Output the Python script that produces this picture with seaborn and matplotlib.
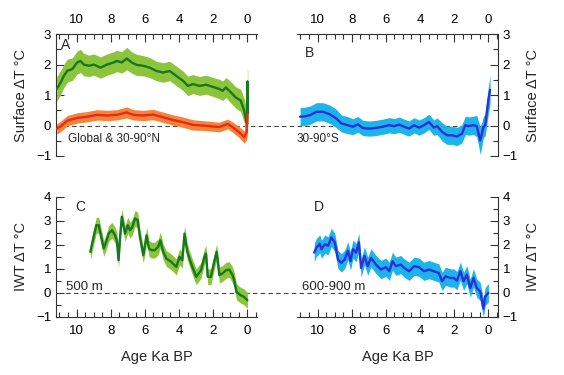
import numpy as np
import pandas as pd
import matplotlib.pyplot as plt
import seaborn as sns
from matplotlib.ticker import MultipleLocator

# Panel A: 30-90N surface stack (green) and global stack (red)
north_age = [11.16, 10.93, 10.75, 10.54, 10.25, 9.96, 9.77, 9.57, 9.28, 8.99, 8.6, 8.22,
             7.83, 7.64, 7.35, 7.06, 6.77, 6.48, 6.09, 5.71, 5.32, 4.93, 4.55, 4.16,
             3.77, 3.48, 3.19, 2.8, 2.42, 2.03, 1.64, 1.45, 1.26, 0.97, 0.68, 0.39,
             0.19, 0.05, 0.01, 0.0, -0.02]
north_dt = [1.2, 1.41, 1.62, 1.8, 1.85, 2.07, 2.12, 2.0, 1.96, 2.0, 1.9, 2.0,
            2.07, 2.12, 2.07, 2.2, 2.07, 1.99, 1.96, 1.9, 1.79, 1.74, 1.79, 1.63,
            1.47, 1.3, 1.36, 1.3, 1.34, 1.27, 1.2, 1.14, 1.25, 1.09, 0.92, 0.82,
            0.49, 0.1, 0.05, 1.45, 0.4]
north_err = [0.4, 0.4, 0.38, 0.38, 0.37, 0.38, 0.38, 0.37, 0.35, 0.35, 0.35, 0.35,
             0.35, 0.35, 0.35, 0.37, 0.35, 0.35, 0.33, 0.33, 0.32, 0.32, 0.32, 0.32,
             0.32, 0.32, 0.31, 0.31, 0.31, 0.31, 0.32, 0.32, 0.33, 0.35, 0.35, 0.37,
             0.4, 0.45, 0.5, 0.45, 1.4]

global_age = [11.16, 10.93, 10.54, 9.96, 9.38, 8.8, 8.22, 7.64, 7.06, 6.67, 6.09,
              5.51, 4.93, 4.35, 3.77, 3.19, 2.61, 2.03, 1.64, 1.16, 0.87, 0.48,
              0.19, 0.04, 0.0]
global_dt = [-0.11, -0.03, 0.16, 0.25, 0.29, 0.35, 0.33, 0.35, 0.43, 0.35, 0.33,
             0.36, 0.27, 0.18, 0.11, 0.02, 0.0, -0.03, -0.05, 0.05, -0.05, -0.22,
             -0.38, -0.22, 0.38]
global_err = [0.17, 0.17, 0.17, 0.17, 0.17, 0.17, 0.17, 0.17, 0.18, 0.17, 0.17,
              0.17, 0.17, 0.17, 0.17, 0.17, 0.16, 0.16, 0.16, 0.16, 0.17, 0.18,
              0.2, 0.25, 0.3]

# Panel B: 30-90S surface stack
south_age = [11.02, 10.73, 10.44, 10.06, 9.67, 9.28, 8.9, 8.61, 8.22, 7.93, 7.64,
             7.35, 6.96, 6.58, 6.19, 5.8, 5.51, 5.22, 4.93, 4.64, 4.35, 4.06,
             3.77, 3.48, 3.19, 3.0, 2.71, 2.42, 2.13, 1.84, 1.55, 1.35, 1.16,
             0.87, 0.68, 0.48, 0.39, 0.29, 0.19, 0.1, 0.0, -0.1]
south_dt = [0.29, 0.3, 0.34, 0.45, 0.45, 0.37, 0.23, 0.07, 0.01, -0.04, 0.04,
            -0.08, -0.1, -0.08, -0.04, 0.01, -0.02, 0.03, -0.04, -0.1, 0.01, -0.07,
            0.01, 0.12, -0.07, -0.02, -0.21, -0.32, -0.32, -0.36, -0.27, 0.01, -0.02,
            0.01, -0.02, -0.49, -0.3, -0.04, 0.0, 0.4, 0.84, 1.17]
south_err = [0.3, 0.3, 0.3, 0.3, 0.3, 0.3, 0.3, 0.28, 0.28, 0.26, 0.26,
             0.25, 0.25, 0.25, 0.25, 0.25, 0.25, 0.25, 0.25, 0.25, 0.25, 0.25,
             0.25, 0.25, 0.25, 0.27, 0.3, 0.3, 0.3, 0.3, 0.3, 0.3, 0.3,
             0.3, 0.35, 0.45, 0.4, 0.35, 0.35, 0.4, 0.45, 0.45]

# Panel C: intermediate water temperature, 500 m
iwt500_age = [9.19, 9.0, 8.84, 8.7, 8.51, 8.41, 8.26, 8.12, 7.93, 7.74, 7.64, 7.54,
              7.45, 7.35, 7.16, 7.0, 6.87, 6.73, 6.58, 6.42, 6.29, 6.09, 5.9, 5.76,
              5.61, 5.42, 5.22, 5.09, 4.93, 4.74, 4.45, 4.16, 3.97, 3.81, 3.68, 3.52,
              3.29, 3.0, 2.71, 2.52, 2.42, 2.32, 2.13, 1.99, 1.8, 1.64, 1.45, 1.26,
              1.06, 0.87, 0.77, 0.64, 0.39, 0.19, 0.0]
iwt500_dt = [1.71, 2.33, 2.82, 2.82, 2.19, 1.85, 2.13, 2.47, 2.61, 2.4, 2.19, 1.36,
             2.33, 3.17, 2.47, 2.82, 2.61, 2.75, 3.1, 3.03, 2.33, 1.57, 2.4, 1.85,
             1.78, 1.78, 1.92, 2.19, 1.71, 1.43, 1.29, 1.08, 1.5, 1.36, 2.47, 1.71,
             1.22, 0.67, 0.94, 1.5, 1.64, 0.67, 0.67, 1.15, 1.71, 0.74, 0.81, 0.94,
             0.97, 0.74, 0.53, 0.04, -0.1, -0.17, -0.31]
iwt500_err = 0.33

# Panel D: intermediate water temperature, 600-900 m
iwt900_age = [10.19, 10.06, 9.96, 9.87, 9.77, 9.57, 9.38, 9.19, 8.99, 8.8, 8.61, 8.41,
              8.22, 8.07, 7.93, 7.74, 7.58, 7.45, 7.25, 7.06, 6.87, 6.58, 6.29, 6.0,
              5.8, 5.61, 5.42, 5.13, 4.93, 4.64, 4.35, 4.06, 3.77, 3.48, 3.19, 2.9,
              2.71, 2.51, 2.22, 2.03, 1.84, 1.64, 1.45, 1.26, 1.06, 0.87, 0.68, 0.48,
              0.29, 0.19, 0.0]
iwt900_dt = [1.68, 1.9, 1.96, 2.05, 1.82, 2.03, 1.96, 2.31, 2.1, 1.39, 1.25, 1.39,
             1.75, 1.32, 1.82, 1.68, 2.1, 1.04, 1.54, 1.11, 1.46, 1.18, 0.97, 1.07,
             0.9, 1.32, 1.11, 1.18, 1.04, 0.9, 1.11, 1.07, 0.9, 0.97, 0.9, 0.83,
             0.48, 0.69, 0.62, 0.62, 0.51, 0.9, 0.48, 0.76, 0.2, 0.62, 0.2, 0.06,
             -0.65, -0.15, 0.0]
iwt900_err = 0.38

age_ticks = [10, 8, 6, 4, 2, 0]

GREEN_LINE, GREEN_BAND = '#16781f', '#8cc43c'
RED_LINE, RED_BAND = '#e82a18', '#f5843a'
BLUE_LINE, BLUE_BAND = '#2c30d8', '#1cb4ea'


def draw_series(ax, age, dt, err, line_color, band_color):
    df = pd.DataFrame({'age': age, 'dt': dt})
    err = np.broadcast_to(np.asarray(err, dtype=float), df['dt'].shape)
    ax.fill_between(df['age'], df['dt'] - err, df['dt'] + err,
                    color=band_color, lw=0, zorder=2)
    sns.lineplot(data=df, x='age', y='dt', ax=ax, color=line_color,
                 lw=1.7, sort=False, estimator=None, zorder=3)


def style_axes(ax, top, right, ylim, ylabel):
    ax.set_xlim(11.2, -0.55)
    ax.set_ylim(*ylim)
    ax.set_xticks(age_ticks)
    ax.xaxis.set_minor_locator(MultipleLocator(0.5))
    ax.yaxis.set_major_locator(MultipleLocator(1))
    ax.yaxis.set_minor_locator(MultipleLocator(0.5))
    for s in ax.spines.values():
        s.set_visible(False)
        s.set_linewidth(0.8)
        s.set_color('#333333')
    ax.spines['top' if top else 'bottom'].set_visible(True)
    ax.spines['right' if right else 'left'].set_visible(True)
    ax.tick_params(which='both', direction='in', colors='#333333',
                   labelcolor='black', labelsize=9.5, width=0.8,
                   top=top, bottom=not top, labeltop=top, labelbottom=not top,
                   left=not right, right=right, labelleft=not right, labelright=right)
    ax.tick_params(which='major', length=6)
    ax.tick_params(which='minor', length=3.5)
    ax.tick_params(axis='x', pad=6)
    if right:
        ax.yaxis.set_label_position('right')
    ax.set_ylabel(ylabel, fontsize=10.5, labelpad=6)
    ax.set_xlabel('')
    ax.patch.set_alpha(0)


sns.set_style('ticks')
plt.rcParams['font.family'] = ['Liberation Sans', 'DejaVu Sans']

fig = plt.figure(figsize=(5.64, 3.75), dpi=100)
axA = fig.add_axes([0.0993, 0.584, 0.356, 0.325])
axB = fig.add_axes([0.5266, 0.584, 0.356, 0.325])
axC = fig.add_axes([0.0993, 0.155, 0.356, 0.32])
axD = fig.add_axes([0.5266, 0.155, 0.356, 0.32])

draw_series(axA, north_age, north_dt, north_err, GREEN_LINE, GREEN_BAND)
draw_series(axA, global_age, global_dt, global_err, RED_LINE, RED_BAND)
draw_series(axB, south_age, south_dt, south_err, BLUE_LINE, BLUE_BAND)
draw_series(axC, iwt500_age, iwt500_dt, iwt500_err, GREEN_LINE, GREEN_BAND)
draw_series(axD, iwt900_age, iwt900_dt, iwt900_err, BLUE_LINE, BLUE_BAND)

style_axes(axA, True, False, (-1, 3), 'Surface ΔT °C')
style_axes(axB, True, True, (-1, 3), 'Surface ΔT °C')
style_axes(axC, False, False, (-1, 4), 'IWT ΔT °C')
style_axes(axD, False, True, (-1, 4), 'IWT ΔT °C')

# zero reference line running across both panels of a row
axA.axhline(0, xmin=0, xmax=2.15, color='#444444', lw=0.8, ls=(0, (4, 3)),
            clip_on=False, zorder=1)
axC.axhline(0, xmin=0.01, xmax=2.15, color='#444444', lw=0.8, ls=(0, (4, 3)),
            clip_on=False, zorder=1)

for ax in (axC, axD):
    ax.set_xlabel('Age Ka BP', fontsize=10.5, labelpad=9)

axA.text(0.025, 0.965, 'A', transform=axA.transAxes, fontsize=10, va='top')
axB.text(0.04, 0.9, 'B', transform=axB.transAxes, fontsize=10, va='top')
axC.text(0.095, 0.97, 'C', transform=axC.transAxes, fontsize=10, va='top')
axD.text(0.085, 0.97, 'D', transform=axD.transAxes, fontsize=10, va='top')
axA.text(0.06, 0.14, 'Global & 30-90°N', transform=axA.transAxes, fontsize=8.5, va='center')
axB.text(0.0, 0.14, '30-90°S', transform=axB.transAxes, fontsize=8.5, va='center')
axC.text(0.05, 0.25, '500 m', transform=axC.transAxes, fontsize=9.5, va='center')
axD.text(0.025, 0.25, '600-900 m', transform=axD.transAxes, fontsize=9.5, va='center')

fig.savefig('out.png', dpi=100)
